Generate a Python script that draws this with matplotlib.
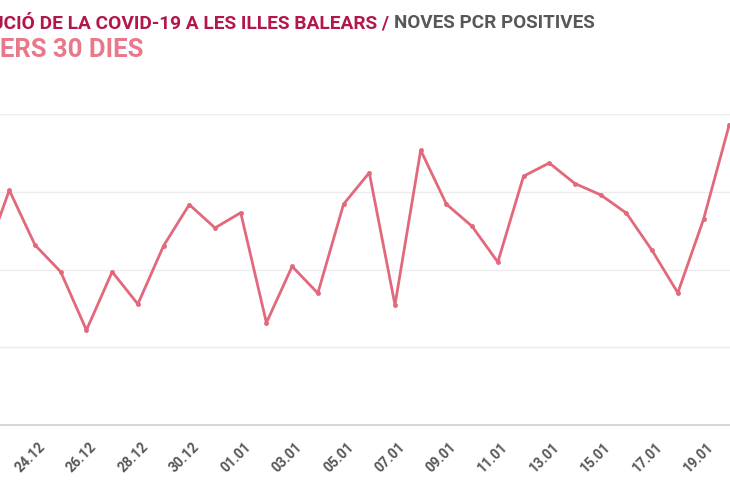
import matplotlib.pyplot as plt
import matplotlib.transforms as mtransforms

# daily new positive PCR tests, last 30 days
dates = ['22.12', '23.12', '24.12', '25.12', '26.12', '27.12', '28.12', '29.12', '30.12', '31.12',
         '01.01', '02.01', '03.01', '04.01', '05.01', '06.01', '07.01', '08.01', '09.01', '10.01',
         '11.01', '12.01', '13.01', '14.01', '15.01', '16.01', '17.01', '18.01', '19.01', '20.01']
positives = [419, 604, 463, 394, 244, 394, 311, 461, 567, 507,
             546, 263, 408, 339, 568, 649, 309, 707, 568, 511,
             419, 640, 674, 621, 592, 545, 449, 340, 529, 772]
grid_values = [0, 200, 400, 600, 800]

plt.rcParams['font.family'] = ['Roboto', 'DejaVu Sans']

line_color = '#e2687b'
crimson = '#b3164c'
gray = '#58585a'
pink = '#e9788a'

fig = plt.figure(figsize=(7.3, 5), dpi=100)
ax = fig.add_axes([0, 0.15, 1, 0.622])

x = list(range(len(dates)))
ax.plot(x, positives, color=line_color, linewidth=2, marker='o', markersize=3.5,
        markeredgewidth=0, clip_on=False, zorder=3)

ax.set_xlim(0.638, 29.03)
ax.set_ylim(0, 800)
ax.set_yticks(grid_values)
ax.yaxis.grid(True, color='#ececec', linewidth=1)
ax.tick_params(axis='y', left=False, labelleft=False)

ax.set_xticks(x[2::2])
ax.set_xticklabels(dates[2::2], rotation=45, ha='right', va='center',
                   rotation_mode='anchor', color=gray, fontsize=10, fontweight='bold')
ax.tick_params(axis='x', length=0, pad=14)
offset = mtransforms.ScaledTranslation(8 / 100, 0, fig.dpi_scale_trans)
for lab in ax.get_xticklabels():
    lab.set_transform(lab.get_transform() + offset)

for side in ['top', 'left', 'right']:
    ax.spines[side].set_visible(False)
ax.spines['bottom'].set_color('#cfcfcf')
ax.spines['bottom'].set_linewidth(1.2)
ax.set_axisbelow(True)

fig.text(389 / 730, 1 - 23 / 500, 'EVOLUCIÓ DE LA COVID-19 A LES ILLES BALEARS /',
         ha='right', va='center', color=crimson, fontsize=13.8, fontweight='bold')
fig.text(595 / 730, 1 - 23 / 500, 'NOVES PCR POSITIVES',
         ha='right', va='center', color=gray, fontsize=13.6, fontweight='bold')
fig.text(143 / 730, 1 - 50 / 500, 'DARRERS 30 DIES',
         ha='right', va='center', color=pink, fontsize=18.5, fontweight='bold')

fig.savefig('out.png', dpi=100)
